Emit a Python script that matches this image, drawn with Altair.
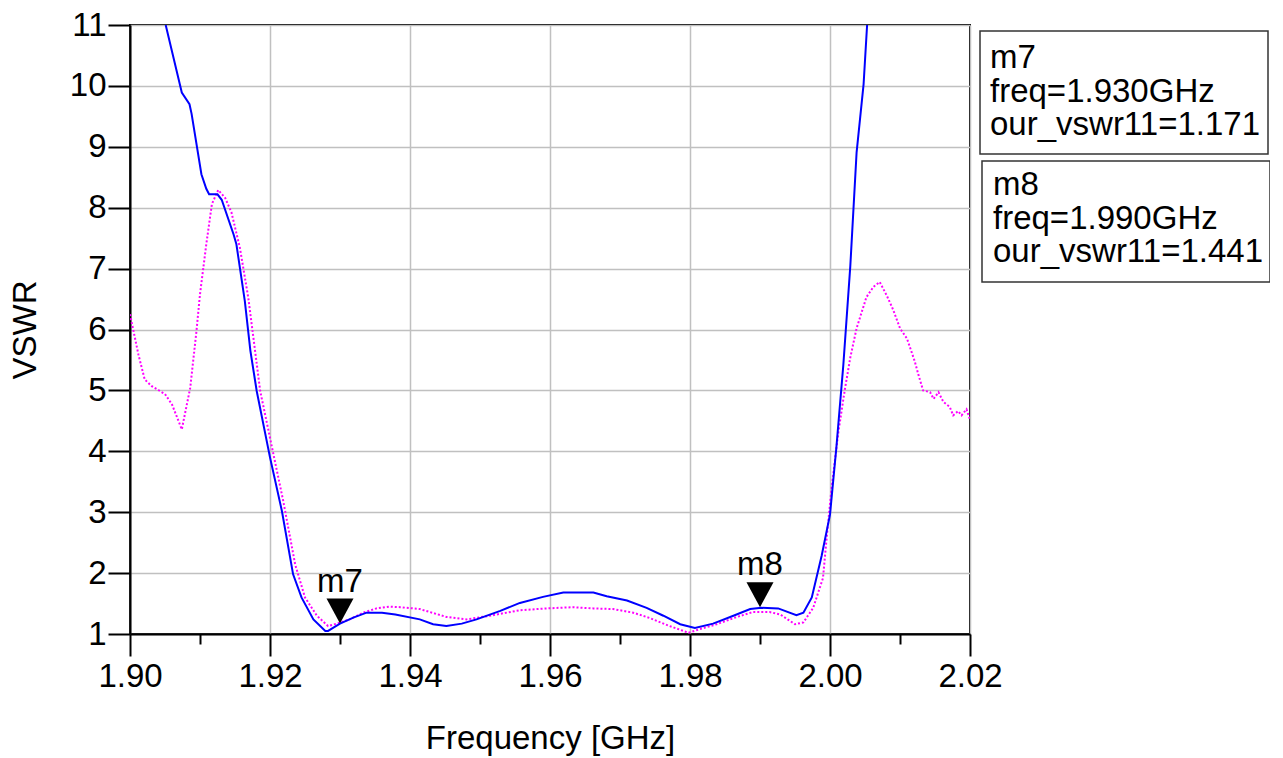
import altair as alt
import pandas as pd

# ---- data ----
blue_freq = [1.9051, 1.9074, 1.9085, 1.9088, 1.9102, 1.9109, 1.9113, 1.9125, 1.9131, 1.9148,
             1.9152, 1.9164, 1.9172, 1.9181, 1.9200, 1.9217, 1.9233, 1.9245, 1.9262, 1.9279, 1.9283,
             1.9290, 1.9300, 1.9319, 1.9338, 1.9360, 1.9379, 1.9414, 1.9433, 1.9452, 1.9474,
             1.9495, 1.9529, 1.9557, 1.9590, 1.9619, 1.9662, 1.9681, 1.9710, 1.9738, 1.9762,
             1.9786, 1.9807, 1.9833, 1.9862, 1.9886, 1.9902, 1.9926, 1.9952, 1.9962, 1.9974,
             1.9988, 2.0000, 2.0009, 2.0019, 2.0029, 2.0038, 2.0048, 2.0053]
blue_vswr = [11.00, 9.89, 9.70, 9.54, 8.55, 8.31, 8.22, 8.22, 8.13, 7.56,
             7.40, 6.47, 5.65, 4.99, 3.90, 3.02, 1.98, 1.60, 1.24, 1.05, 1.05,
             1.10, 1.17, 1.27, 1.35, 1.35, 1.32, 1.24, 1.16, 1.13, 1.17,
             1.24, 1.38, 1.51, 1.61, 1.68, 1.68, 1.62, 1.55, 1.43, 1.30,
             1.16, 1.10, 1.17, 1.30, 1.41, 1.43, 1.42, 1.31, 1.35, 1.60,
             2.28, 2.96, 4.05, 5.41, 7.04, 8.91, 10.03, 11.00]

mag_freq = [1.9000, 1.9012, 1.9021, 1.9031, 1.9050, 1.9060, 1.9074, 1.9086, 1.9095, 1.9100,
            1.9109, 1.9117, 1.9126, 1.9136, 1.9145, 1.9157, 1.9169, 1.9186, 1.9202, 1.9219,
            1.9236, 1.9250, 1.9267, 1.9283, 1.9295, 1.9314, 1.9333, 1.9352, 1.9371, 1.9386,
            1.9414, 1.9452, 1.9481, 1.9514, 1.9557, 1.9595, 1.9633, 1.9662, 1.9690, 1.9719,
            1.9743, 1.9771, 1.9798, 1.9814, 1.9838, 1.9867, 1.9890, 1.9914, 1.9929, 1.9950,
            1.9962, 1.9976, 1.9990, 1.9995, 2.0002, 2.0012, 2.0021, 2.0029, 2.0038, 2.0052,
            2.0062, 2.0071, 2.0081, 2.0090, 2.0100, 2.0110, 2.0121, 2.0126, 2.0133, 2.0143,
            2.0148, 2.0155, 2.0162, 2.0171, 2.0176, 2.0183, 2.0188, 2.0195, 2.0200]
mag_vswr = [6.25, 5.59, 5.18, 5.07, 4.94, 4.77, 4.36, 5.04, 5.98, 6.58,
            7.40, 8.06, 8.29, 8.16, 7.92, 7.34, 6.52, 4.99, 4.11, 3.18,
            2.14, 1.60, 1.30, 1.13, 1.17, 1.24, 1.35, 1.42, 1.45, 1.44,
            1.41, 1.28, 1.24, 1.30, 1.39, 1.42, 1.44, 1.42, 1.41, 1.35,
            1.26, 1.13, 1.02, 1.08, 1.16, 1.28, 1.36, 1.36, 1.32, 1.16,
            1.19, 1.43, 1.92, 2.55, 3.37, 4.32, 5.00, 5.54, 6.02, 6.53,
            6.70, 6.78, 6.56, 6.33, 6.02, 5.85, 5.48, 5.27, 5.00, 4.97,
            4.86, 4.97, 4.81, 4.73, 4.59, 4.66, 4.59, 4.69, 4.52]

marker_names = ["m7", "m8"]
marker_freq = [1.930, 1.990]
marker_vswr = [1.171, 1.441]

x_ticks = [round(1.90 + 0.01 * i, 2) for i in range(13)]
y_ticks = [1 + 0.5 * i for i in range(21)]

FONT = "Liberation Sans, Arial, sans-serif"
FS = 33

blue_df = pd.DataFrame({"freq": blue_freq, "vswr": blue_vswr})
mag_df = pd.DataFrame({"freq": mag_freq, "vswr": mag_vswr})
mk_df = pd.DataFrame({"name": marker_names, "freq": marker_freq, "vswr": marker_vswr})
mk_df["readout"] = [
    f"{n}\nfreq={f:.3f}GHz\nour_vswr11={v:.3f}"
    for n, f, v in zip(marker_names, marker_freq, marker_vswr)
]

x_major = "abs(round(datum.value*100)) % 2 == 0"
y_major = "datum.value % 1 == 0"

x_enc = alt.X(
    "freq:Q",
    scale=alt.Scale(domain=[1.90, 2.02], nice=False, zero=False),
    axis=alt.Axis(
        values=x_ticks,
        title="Frequency [GHz]",
        labelExpr=f"{x_major} ? format(datum.value, '.2f') : ''",
        tickSize={"condition": {"test": x_major, "value": 22}, "value": 10},
        gridOpacity={"condition": {"test": x_major, "value": 1}, "value": 0},
        labelPadding=4,
        labelFlush=False,
        titleX=420,
        titleY=114,
        titleBaseline="alphabetic",
    ),
)
y_enc = alt.Y(
    "vswr:Q",
    scale=alt.Scale(domain=[1, 11], nice=False, zero=False),
    axis=alt.Axis(
        values=y_ticks,
        title="VSWR",
        labelExpr=f"{y_major} ? format(datum.value, 'd') : ''",
        tickSize={"condition": {"test": y_major, "value": 22}, "value": 12},
        gridOpacity={"condition": {"test": y_major, "value": 1}, "value": 0},
        labelPadding=2,
        labelFlush=False,
        titleX=-95,
        titleY=304.5,
        titleBaseline="alphabetic",
    ),
)

blue = alt.Chart(blue_df).mark_line(color="#0000ff", strokeWidth=2, clip=True).encode(
    x=x_enc, y=y_enc, order="freq:Q"
)
mag = alt.Chart(mag_df).mark_line(
    color="#ff00ff", strokeWidth=2, strokeDash=[2, 2], clip=True
).encode(x="freq:Q", y="vswr:Q", order="freq:Q")

tri = alt.Chart(mk_df).mark_point(
    shape="M-1,-1.85L1,-1.85L0,0Z", filled=True, color="black", opacity=1, size=729
).encode(x="freq:Q", y="vswr:Q")

tri_lbl = alt.Chart(mk_df).mark_text(
    font=FONT, fontSize=FS, color="black", align="center", baseline="alphabetic", dy=-32
).encode(x="freq:Q", y="vswr:Q", text="name:N")

layers = [mag, blue, tri, tri_lbl]

box_pos = [
    dict(x=850, x2=1138, y=6, y2=129, tx=860, ty=43),
    dict(x=852, x2=1140, y=136, y2=257, tx=863, ty=170),
]
for i, pos in enumerate(box_pos):
    row = mk_df.iloc[[i]]
    layers.append(
        alt.Chart(row).mark_rect(fill="white", stroke="#333333", strokeWidth=1.5).encode(
            x=alt.value(pos["x"]), x2=alt.value(pos["x2"]),
            y=alt.value(pos["y"]), y2=alt.value(pos["y2"]),
        )
    )
    layers.append(
        alt.Chart(row).mark_text(
            font=FONT, fontSize=FS, color="black", align="left",
            baseline="alphabetic", lineBreak="\n", lineHeight=33.5,
        ).encode(x=alt.value(pos["tx"]), y=alt.value(pos["ty"]), text="readout:N")
    )

chart = alt.layer(*layers).properties(
    width=840,
    height=609,
    autosize="none",
    padding={"left": 122, "top": 17, "right": 300, "bottom": 124},
    background="white",
).configure_view(
    stroke="black", strokeWidth=2
).configure_axis(
    labelFont=FONT, titleFont=FONT, labelFontSize=FS, titleFontSize=FS,
    labelColor="black", titleColor="black", titleFontWeight="normal",
    domainColor="black", domainWidth=2, tickColor="black", tickWidth=2,
    gridColor="#c0c0c0", gridWidth=1.5,
)

chart.save("out.html", embed_options={"renderer": "svg", "actions": False})
